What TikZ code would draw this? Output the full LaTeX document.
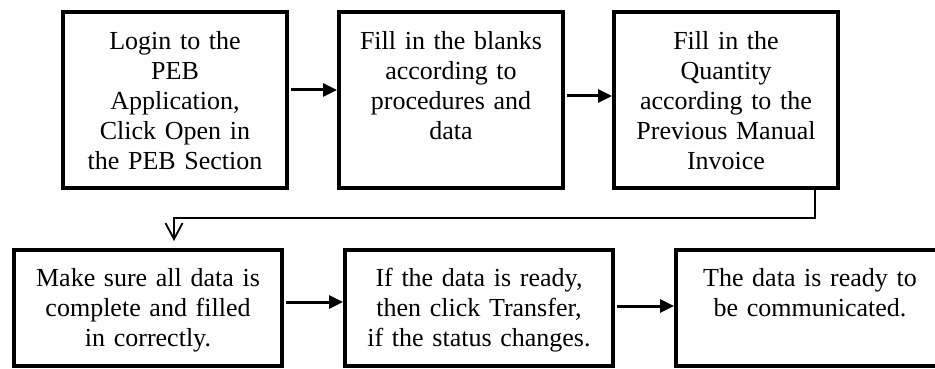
\documentclass[tikz,border=0pt]{standalone}
\usepackage{fontspec}
\setmainfont{Liberation Serif}
\usetikzlibrary{arrows.meta}
\tikzset{
  stepbox/.style={draw, line width=4pt, rectangle, inner sep=0pt, outer sep=0pt},
  toprow/.style={stepbox, minimum width=224pt, minimum height=176pt},
  botrow/.style={stepbox, minimum width=268pt, minimum height=116pt},
  boxtext/.style={anchor=north, inner sep=0pt, align=center,
    font=\fontsize{26}{30}\selectfont},
  flow/.style={line width=3pt, -{Triangle[length=14pt,width=13pt]},
    shorten <=4pt, shorten >=2pt},
  link/.style={line width=1.5pt, -{Straight Barb[length=16pt,width=17pt,line width=1.8pt]}}
}
\begin{document}
\begin{tikzpicture}[x=1pt, y=-1pt]
\useasboundingbox (0,0) rectangle (935,369);
\clip (0,0) rectangle (935,369);

% top row
\node[toprow] (b1) at (175,100) {};
\node[toprow] (b2) at (451,100) {};
\node[toprow] (b3) at (726,100) {};
% bottom row
\node[botrow] (b4) at (148,308) {};
\node[botrow] (b5) at (479,308) {};
\node[botrow] (b6) at (810,308) {};

% box texts
\node[boxtext, text width=224pt] (t1) at ([yshift=-19pt]b1.north)
  {Login to the\\PEB\\Application,\\Click Open in\\the PEB Section};
\node[boxtext, text width=224pt] (t2) at ([yshift=-19pt]b2.north)
  {Fill in the blanks\\according to\\procedures and\\data};
\node[boxtext, text width=224pt] (t3) at ([yshift=-19pt]b3.north)
  {Fill in the\\Quantity\\according to the\\Previous Manual\\Invoice};
\node[boxtext, text width=268pt] (t4) at ([yshift=-18pt]b4.north)
  {Make sure all data is\\complete and filled\\in correctly.};
\node[boxtext, text width=268pt] (t5) at ([yshift=-18pt]b5.north)
  {If the data is ready,\\then click Transfer,\\if the status changes.};
\node[boxtext, text width=268pt] (t6) at ([yshift=-18pt]b6.north)
  {The data is ready to\\be communicated.};

% arrow levels and connector route
\coordinate (r1) at (0,90);
\coordinate (r2) at (0,96);
\coordinate (r4) at (0,302);
\coordinate (r5) at (0,306);
\coordinate (tap) at (815,0);
\coordinate (bend) at (0,218);
\coordinate (drop) at (174,0);

\draw[flow] (b1.east |- r1) -- (b2.west |- r1);
\draw[flow] (b2.east |- r2) -- (b3.west |- r2);
\draw[flow] (b4.east |- r4) -- (b5.west |- r4);
\draw[flow] (b5.east |- r5) -- (b6.west |- r5);

\draw[link, shorten >=9pt] (b3.south -| tap) |- (bend -| drop) -- (b4.north -| drop);
\end{tikzpicture}
\end{document}
